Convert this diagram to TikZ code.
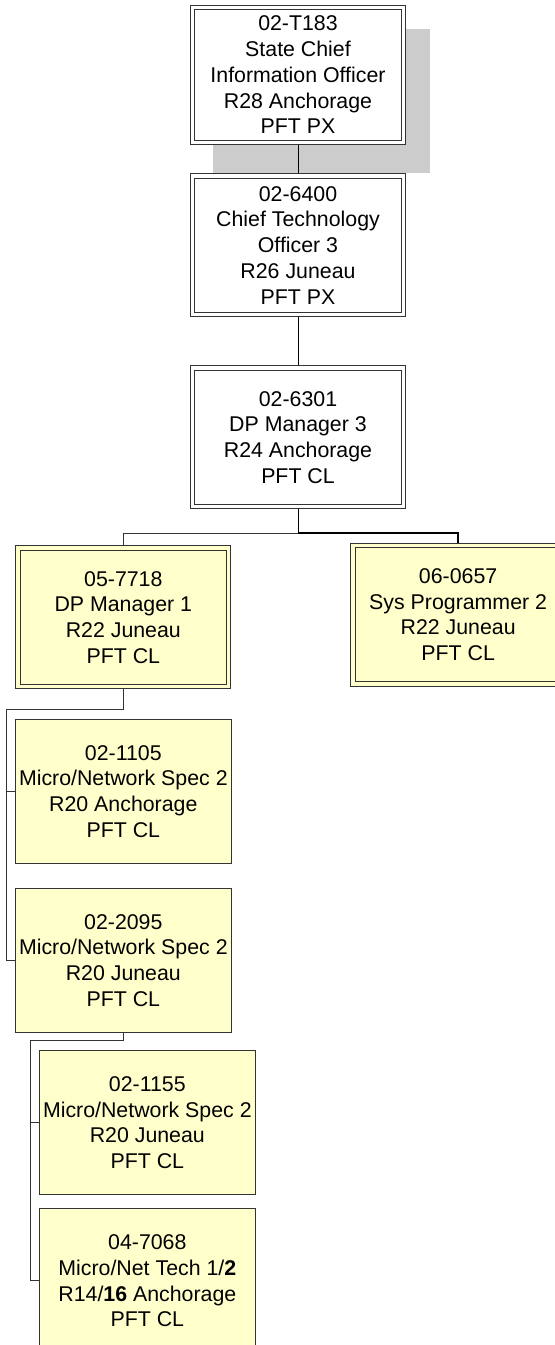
\documentclass[tikz,border=0pt]{standalone}
\usepackage{fontspec}
\setmainfont{Liberation Sans}
\usepackage{tikz}
\usetikzlibrary{positioning, backgrounds}
\definecolor{posyellow}{HTML}{FFFFCC}
\tikzset{
        node distance=20pt, % gap between boxes, overridden per node
        pcn box/.style={
		draw=black!80,
		fill=#1,
		line width=0.75pt,
		minimum width=162pt,
		minimum height=108pt,
		inner sep=0pt,
		align=center,
		font=\fontsize{16pt}{19.3pt}\selectfont,
	  },
        pcn box/.default=posyellow,
        double box/.style={
		pcn box=#1,
		double=#1,
		double distance=2.6pt,
		outer sep=2.05pt,
		minimum width=158pt,
		minimum height=104pt,
	  },
        double box/.default=white,
        link/.style={
		draw=black!80,
		line width=0.75pt,
	  },
  	}

\begin{document}
\begin{tikzpicture}
    \useasboundingbox (0,0) rectangle (416.25pt,-1008.75pt);
    \node [double box, minimum height=101pt] (t183) at (223.5pt,-56.25pt) {02-T183\\State Chief\\Information Officer\\R28 Anchorage\\PFT PX};
    \node [double box, below=21pt of t183] (t6400) {02-6400\\Chief Technology\\Officer 3\\R26 Juneau\\PFT PX};
    \node [double box, below=36pt of t6400] (t6301) {02-6301\\DP Manager 3\\R24 Anchorage\\PFT CL};
    \node [double box=posyellow, below=27pt of t6301, xshift=-131pt] (m7718) {05-7718\\DP Manager 1\\R22 Juneau\\PFT CL};
    \node [double box=posyellow, right=89pt of m7718, yshift=2pt] (s0657) {06-0657\\Sys Programmer 2\\R22 Juneau\\PFT CL};
    \node [pcn box, below=22pt of m7718] (n1105) {02-1105\\Micro/Network Spec 2\\R20 Anchorage\\PFT CL};
    \node [pcn box, below=18pt of n1105] (n2095) {02-2095\\Micro/Network Spec 2\\R20 Juneau\\PFT CL};
    \node [pcn box, below=13pt of n2095, xshift=18pt] (n1155) {02-1155\\Micro/Network Spec 2\\R20 Juneau\\PFT CL};
    \node [pcn box, below=10pt of n1155] (n7068) {04-7068\\Micro/Net Tech 1/\textbf{2}\\R14/\textbf{16} Anchorage\\PFT CL};

    % shadow of the top box
    \begin{scope}[on background layer]
      \fill [black!20] ([shift={(17pt,-18pt)}]t183.north west) rectangle ([shift={(18pt,-21pt)}]t183.south east);
    \end{scope}

    % connectors
    \coordinate (split) at ([yshift=-18pt]t6301.south);
    \coordinate (bus1) at ([yshift=-15pt]m7718.south);
    \coordinate (bus2) at ([yshift=-6pt]n2095.south);
    \coordinate (tap1105) at ([xshift=-6pt]n1105.west);
    \coordinate (tap2095) at ([xshift=-6pt]n2095.west);
    \coordinate (tap1155) at ([xshift=-6pt]n1155.west);
    \coordinate (tap7068) at ([xshift=-6pt]n7068.west);
    \draw [link, draw=black] (t183) -- (t6400);
    \draw [link, draw=black] (t6400) -- (t6301);
    \draw [link, draw=black] (t6301) -- (split);
    \draw [link] (split) -| (m7718);
    \draw [link, draw=black, line width=1.6pt] (split) -| (s0657);
    \draw [link] (m7718) -- (bus1) -| (tap2095) -- (n2095);
    \draw [link] (tap1105) -- (n1105);
    \draw [link] (n2095) -- (bus2) -| (tap7068) -- (n7068);
    \draw [link] (tap1155) -- (n1155);
  \end{tikzpicture}
\end{document}
